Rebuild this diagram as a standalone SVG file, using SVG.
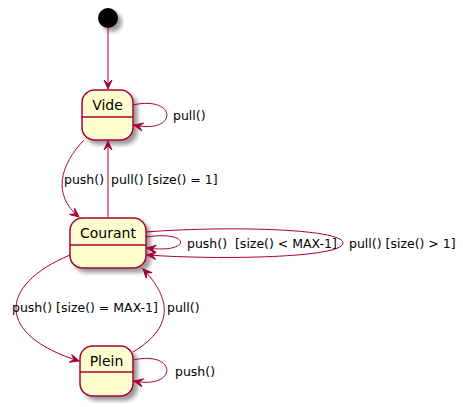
<svg xmlns="http://www.w3.org/2000/svg" width="463" height="407" viewBox="0 0 463 407">
<style>
.st rect{fill:#FEFECE;stroke:#A80036;stroke-width:1.5}
.st line{stroke:#A80036;stroke-width:1.5}
.nm{font-family:"DejaVu Sans",sans-serif;font-size:14px;fill:#000;text-anchor:middle}
.lb{font-family:"DejaVu Sans",sans-serif;font-size:12.5px;fill:#000}
.e{fill:none;stroke:#A80036;stroke-width:1;marker-end:url(#arr)}
</style>
<defs>
<filter id="sh" x="-20%" y="-20%" width="150%" height="150%">
<feGaussianBlur in="SourceAlpha" stdDeviation="2"/>
<feOffset dx="4" dy="4" result="b"/>
<feComponentTransfer><feFuncA type="linear" slope="0.4"/></feComponentTransfer>
<feMerge><feMergeNode/><feMergeNode in="SourceGraphic"/></feMerge>
</filter>
<marker id="arr" viewBox="-10 -5 11 10" refX="0" refY="0" markerWidth="11" markerHeight="10" markerUnits="userSpaceOnUse" orient="auto">
<path d="M0,0 L-9,-4 L-5,0 L-9,4 Z" fill="#A80036" stroke="#A80036" stroke-width="1"/>
</marker>
</defs>
<g id="start"><circle cx="108" cy="18" r="10" fill="#000" filter="url(#sh)"/></g>
<g id="Vide" class="st"><rect x="82" y="90" width="51" height="50" rx="12.5" filter="url(#sh)"/><line x1="82" y1="117" x2="133" y2="117"/><text class="nm" x="107.5" y="110">Vide</text></g>
<g id="Courant" class="st"><rect x="70" y="218" width="76" height="50" rx="12.5" filter="url(#sh)"/><line x1="70" y1="245" x2="146" y2="245"/><text class="nm" x="108" y="238">Courant</text></g>
<g id="Plein" class="st"><rect x="80" y="346" width="53" height="50" rx="12.5" filter="url(#sh)"/><line x1="80" y1="372" x2="133" y2="372"/><text class="nm" x="106.5" y="366">Plein</text></g>
<g id="edges">
<path class="e" d="M108,28 L108,89"/>
<path class="e" d="M133,105 C178,95 178,135 134,125"/>
<path class="e" d="M84,140 C60,165 52,195 79,217"/>
<path class="e" d="M108,218 L108,141"/>
<path class="e" d="M146,237 C192,230 192,254 147,248"/>
<path class="e" d="M146,232 C220,226 343,228 343,243 C343,258 220,260 147,255"/>
<path class="e" d="M70,255 C-2,285 -5,335 79,361"/>
<path class="e" d="M133,352 C178,325 168,295 143,269"/>
<path class="e" d="M133,360 C178,350 178,390 134,381"/>
</g>
<g id="labels">
<text class="lb" x="173" y="120">pull()</text>
<text class="lb" x="64" y="184">push()</text>
<text class="lb" x="111" y="184">pull() [size() = 1]</text>
<text class="lb" x="187" y="248" xml:space="preserve">push()  [size() &lt; MAX-1]</text>
<text class="lb" x="349" y="248">pull() [size() &gt; 1]</text>
<text class="lb" x="12" y="312">push() [size() = MAX-1]</text>
<text class="lb" x="167" y="312">pull()</text>
<text class="lb" x="175" y="376">push()</text>
</g>
</svg>
